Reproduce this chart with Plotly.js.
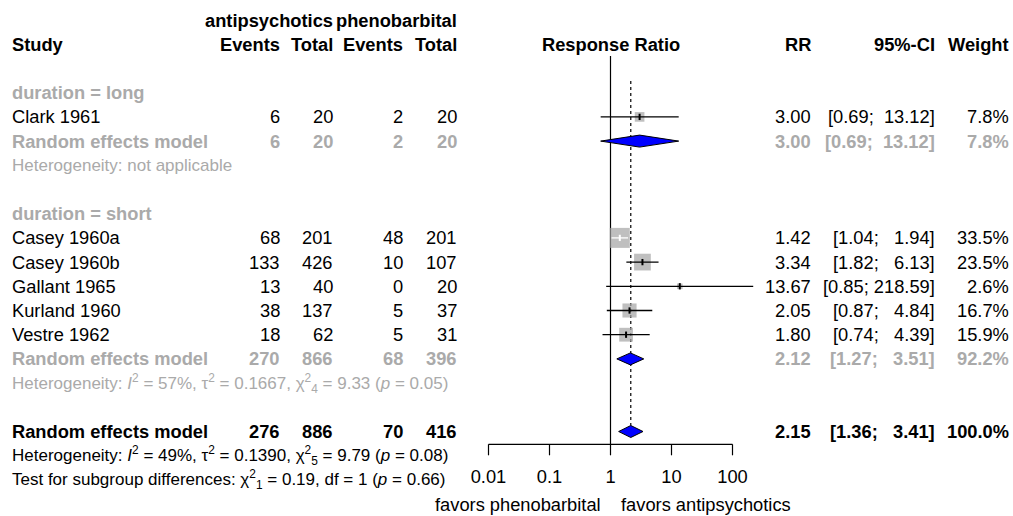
<!DOCTYPE html>
<html><head><meta charset="utf-8">
<script src="https://cdn.plot.ly/plotly-3.0.1.min.js"></script>
<style>html,body{margin:0;padding:0;background:#fff}#chart{width:1013px;height:516px}</style>
</head><body><div id="chart"></div>
<script>
// ---------- data ----------
const groupNames = ["long", "short"];
const studies   = ["Clark 1961", "Casey 1960a", "Casey 1960b", "Gallant 1965", "Kurland 1960", "Vestre 1962"];
const studyGroup = ["long", "short", "short", "short", "short", "short"];
const evAnti    = [6, 68, 133, 13, 38, 18];
const totAnti   = [20, 201, 426, 40, 137, 62];
const evPheno   = [2, 48, 10, 0, 5, 5];
const totPheno  = [20, 201, 107, 20, 37, 31];
const rr        = [3.00, 1.42, 3.34, 13.67, 2.05, 1.80];
const lower     = [0.69, 1.04, 1.82, 0.85, 0.87, 0.74];
const upper     = [13.12, 1.94, 6.13, 218.59, 4.84, 4.39];
const weight    = [7.8, 33.5, 23.5, 2.6, 16.7, 15.9];

const subEvAnti   = [6, 270];
const subTotAnti  = [20, 866];
const subEvPheno  = [2, 68];
const subTotPheno = [20, 396];
const subRR       = [3.00, 2.12];
const subLower    = [0.69, 1.27];
const subUpper    = [13.12, 3.51];
const subWeight   = [7.8, 92.2];
const subHet = [
  "Heterogeneity: not applicable",
  "Heterogeneity: <i>I</i><sup>2</sup> = 57%, τ<sup>2</sup> = 0.1667, χ<sup>2</sup><sub>4</sub> = 9.33 (<i>p</i> = 0.05)"
];

const allEvAnti = 276, allTotAnti = 886, allEvPheno = 70, allTotPheno = 416;
const allRR = 2.15, allLower = 1.36, allUpper = 3.41, allWeight = 100.0;
const allHet = "Heterogeneity: <i>I</i><sup>2</sup> = 49%, τ<sup>2</sup> = 0.1390, χ<sup>2</sup><sub>5</sub> = 9.79 (<i>p</i> = 0.08)";
const testSub = "Test for subgroup differences: χ<sup>2</sup><sub>1</sub> = 0.19, df = 1 (<i>p</i> = 0.66)";

const tickVals = [0.01, 0.1, 1, 10, 100];
const tickText = ["0.01", "0.1", "1", "10", "100"];
const labelLeft = "favors phenobarbital";
const labelRight = "favors antipsychotics";

// ---------- layout helpers ----------
const W = 1013, H = 516;
const FONT = '"Liberation Sans", Arial, Helvetica, sans-serif';
const BLACK = '#000000', GRAY = '#AAAAAA', SQ_GRAY = '#A4A4A4';
const PX_PER_DEC = 61, X1PX = 610.5;
const ROW_PX = 24.2, ROW_REF_PX = 44.3, ROW_REF = -2;
const rowOf = px => ROW_REF + (px - ROW_REF_PX) / ROW_PX;
const xDomPx = [470, 770];
const xRange = [(xDomPx[0] - X1PX) / PX_PER_DEC, (xDomPx[1] - X1PX) / PX_PER_DEC];
const yRange = [rowOf(H), rowOf(0)];
const FS = 18.3, FS_SMALL = 17;

const COL = {study: 12, evA: 279.5, totA: 333, evP: 402.5, totP: 457, rr: 810.5, ci: 934.5, w: 1008.5};

const ann = [];
function txt(text, xpx, row, anchor, color, bold, size) {
  ann.push({
    text: bold ? '<b>' + text + '</b>' : text,
    xref: 'paper', yref: 'y', x: xpx / W, y: row,
    xanchor: anchor, yanchor: 'middle', showarrow: false,
    borderpad: 0, borderwidth: 0,
    font: {family: FONT, size: size || FS, color: color}
  });
}
const nb = '\u00a0';
const padL = (s, n) => nb.repeat(Math.max(0, n - s.length)) + s;
const allUppers = upper.concat(subUpper, [allUpper]).map(v => v.toFixed(2));
const allLowers = lower.concat(subLower, [allLower]).map(v => v.toFixed(2));
const uW = Math.max(...allUppers.map(s => s.length));
const lW = Math.max(...allLowers.map(s => s.length));
const fmtCI = (l, u) => '[' + padL(l.toFixed(2), lW) + ';' + nb + padL(u.toFixed(2), uW) + ']';

// ---------- headers ----------
txt('antipsychotics', COL.totA, -3, 'right', BLACK, true);
txt('phenobarbital', COL.totP, -3, 'right', BLACK, true);
txt('Study', COL.study, -2, 'left', BLACK, true);
txt('Events', COL.evA, -2, 'right', BLACK, true);
txt('Total', COL.totA, -2, 'right', BLACK, true);
txt('Events', COL.evP, -2, 'right', BLACK, true);
txt('Total', COL.totP, -2, 'right', BLACK, true);
txt('RR', COL.rr, -2, 'right', BLACK, true);
txt('95%-CI', COL.ci, -2, 'right', BLACK, true);
txt('Weight', COL.w, -2, 'right', BLACK, true);
ann.push({text: '<b>Response Ratio</b>', xref: 'x', yref: 'y', x: 0, y: -2, xanchor: 'center', yanchor: 'middle',
  showarrow: false, borderpad: 0, borderwidth: 0, font: {family: FONT, size: FS, color: BLACK}});

// ---------- rows ----------
const studyRow = [], subRow = [];
let r = 0;
groupNames.forEach((g, gi) => {
  txt('duration = ' + g, COL.study, r, 'left', GRAY, true);
  r++;
  studies.forEach((s, i) => {
    if (studyGroup[i] !== g) return;
    studyRow[i] = r;
    txt(s, COL.study, r, 'left', BLACK, false);
    txt(String(evAnti[i]), COL.evA, r, 'right', BLACK, false);
    txt(String(totAnti[i]), COL.totA, r, 'right', BLACK, false);
    txt(String(evPheno[i]), COL.evP, r, 'right', BLACK, false);
    txt(String(totPheno[i]), COL.totP, r, 'right', BLACK, false);
    txt(rr[i].toFixed(2), COL.rr, r, 'right', BLACK, false);
    txt(fmtCI(lower[i], upper[i]), COL.ci, r, 'right', BLACK, false);
    txt(weight[i].toFixed(1) + '%', COL.w, r, 'right', BLACK, false);
    r++;
  });
  subRow[gi] = r;
  txt('Random effects model', COL.study, r, 'left', GRAY, true);
  txt(String(subEvAnti[gi]), COL.evA, r, 'right', GRAY, true);
  txt(String(subTotAnti[gi]), COL.totA, r, 'right', GRAY, true);
  txt(String(subEvPheno[gi]), COL.evP, r, 'right', GRAY, true);
  txt(String(subTotPheno[gi]), COL.totP, r, 'right', GRAY, true);
  txt(subRR[gi].toFixed(2), COL.rr, r, 'right', GRAY, true);
  txt(fmtCI(subLower[gi], subUpper[gi]), COL.ci, r, 'right', GRAY, true);
  txt(subWeight[gi].toFixed(1) + '%', COL.w, r, 'right', GRAY, true);
  r++;
  txt(subHet[gi], COL.study, r, 'left', GRAY, false, FS_SMALL);
  r += 2;
});
const allRow = r;
txt('Random effects model', COL.study, allRow, 'left', BLACK, true);
txt(String(allEvAnti), COL.evA, allRow, 'right', BLACK, true);
txt(String(allTotAnti), COL.totA, allRow, 'right', BLACK, true);
txt(String(allEvPheno), COL.evP, allRow, 'right', BLACK, true);
txt(String(allTotPheno), COL.totP, allRow, 'right', BLACK, true);
txt(allRR.toFixed(2), COL.rr, allRow, 'right', BLACK, true);
txt(fmtCI(allLower, allUpper), COL.ci, allRow, 'right', BLACK, true);
txt(allWeight.toFixed(1) + '%', COL.w, allRow, 'right', BLACK, true);
txt(allHet, COL.study, allRow + 1, 'left', BLACK, false, FS_SMALL);
txt(testSub, COL.study, allRow + 2, 'left', BLACK, false, FS_SMALL);

// favors labels
const favRow = rowOf(504);
ann.push({text: labelLeft, xref: 'x', yref: 'y', x: 0, y: favRow, xanchor: 'right', yanchor: 'middle', xshift: -10,
  showarrow: false, borderpad: 0, borderwidth: 0, font: {family: FONT, size: FS, color: BLACK}});
ann.push({text: labelRight, xref: 'x', yref: 'y', x: 0, y: favRow, xanchor: 'left', yanchor: 'middle', xshift: 10,
  showarrow: false, borderpad: 0, borderwidth: 0, font: {family: FONT, size: FS, color: BLACK}});

// ---------- forest marks ----------
const traces = [];
const axisRow = rowOf(444.3);
const tickLenRow = 11 / ROW_PX;
const diamondHalf = 6 / ROW_PX;

// reference line at 1
traces.push({x: [1, 1], y: [rowOf(56), axisRow], mode: 'lines', line: {color: BLACK, width: 1.2}, hoverinfo: 'skip'});
// dotted line at pooled estimate
traces.push({x: [allRR, allRR], y: [rowOf(81), allRow - diamondHalf], mode: 'lines',
  line: {color: BLACK, width: 1.2, dash: 'dot'}, hoverinfo: 'skip'});

// squares
const sqSize = weight.map(w => 3.455 * Math.sqrt(w));
traces.push({x: rr, y: studyRow, mode: 'markers', cliponaxis: false,
  marker: {symbol: 'square', size: sqSize, color: SQ_GRAY, line: {width: 0}}, hoverinfo: 'skip'});

// CI lines (white when entirely inside the square)
const ciColor = rr.map((v, i) => {
  const half = sqSize[i] / 2;
  const lo = PX_PER_DEC * Math.log10(v / lower[i]);
  const hi = PX_PER_DEC * Math.log10(upper[i] / v);
  return (lo < half && hi < half) ? '#FFFFFF' : BLACK;
});
['#FFFFFF', BLACK].forEach(c => {
  const xs = [], ys = [];
  rr.forEach((v, i) => {
    if (ciColor[i] !== c) return;
    xs.push(lower[i], upper[i], null); ys.push(studyRow[i], studyRow[i], null);
  });
  if (xs.length) traces.push({x: xs, y: ys, mode: 'lines', line: {color: c, width: 1.3}, hoverinfo: 'skip'});
});
// estimate ticks
traces.push({x: rr, y: studyRow, mode: 'markers', cliponaxis: false,
  marker: {symbol: 'line-ns', size: 4.5, color: ciColor, line: {width: 2, color: ciColor}}, hoverinfo: 'skip'});

// diamonds
const dEst = subRR.concat([allRR]), dLo = subLower.concat([allLower]), dHi = subUpper.concat([allUpper]);
const dRow = subRow.concat([allRow]);
const dx = [], dy = [];
dEst.forEach((e, i) => {
  dx.push(dLo[i], e, dHi[i], e, dLo[i], null);
  dy.push(dRow[i], dRow[i] - diamondHalf, dRow[i], dRow[i] + diamondHalf, dRow[i], null);
});
traces.push({x: dx, y: dy, mode: 'lines', fill: 'toself', fillcolor: '#0000FF',
  line: {color: BLACK, width: 1}, hoverinfo: 'skip'});

// x axis line, ticks and labels
traces.push({x: [tickVals[0], tickVals[tickVals.length - 1]], y: [axisRow, axisRow], mode: 'lines',
  line: {color: BLACK, width: 1.2}, hoverinfo: 'skip'});
const tx = [], ty = [];
tickVals.forEach(v => { tx.push(v, v, null); ty.push(axisRow, axisRow + tickLenRow, null); });
traces.push({x: tx, y: ty, mode: 'lines', line: {color: BLACK, width: 1.2}, hoverinfo: 'skip'});
traces.push({x: tickVals, y: tickVals.map(() => rowOf(478)), mode: 'text', text: tickText, cliponaxis: false,
  textposition: 'middle center', textfont: {family: FONT, size: FS, color: BLACK}, hoverinfo: 'skip'});

const layout = {
  width: W, height: H, margin: {l: 0, r: 0, t: 0, b: 0},
  paper_bgcolor: '#FFFFFF', plot_bgcolor: '#FFFFFF', showlegend: false,
  xaxis: {type: 'log', domain: [xDomPx[0] / W, xDomPx[1] / W], range: xRange, visible: false, fixedrange: true},
  yaxis: {domain: [0, 1], range: yRange, visible: false, fixedrange: true},
  annotations: ann, hovermode: false
};
Plotly.newPlot('chart', traces, layout, {displayModeBar: false, staticPlot: true});
</script></body></html>
